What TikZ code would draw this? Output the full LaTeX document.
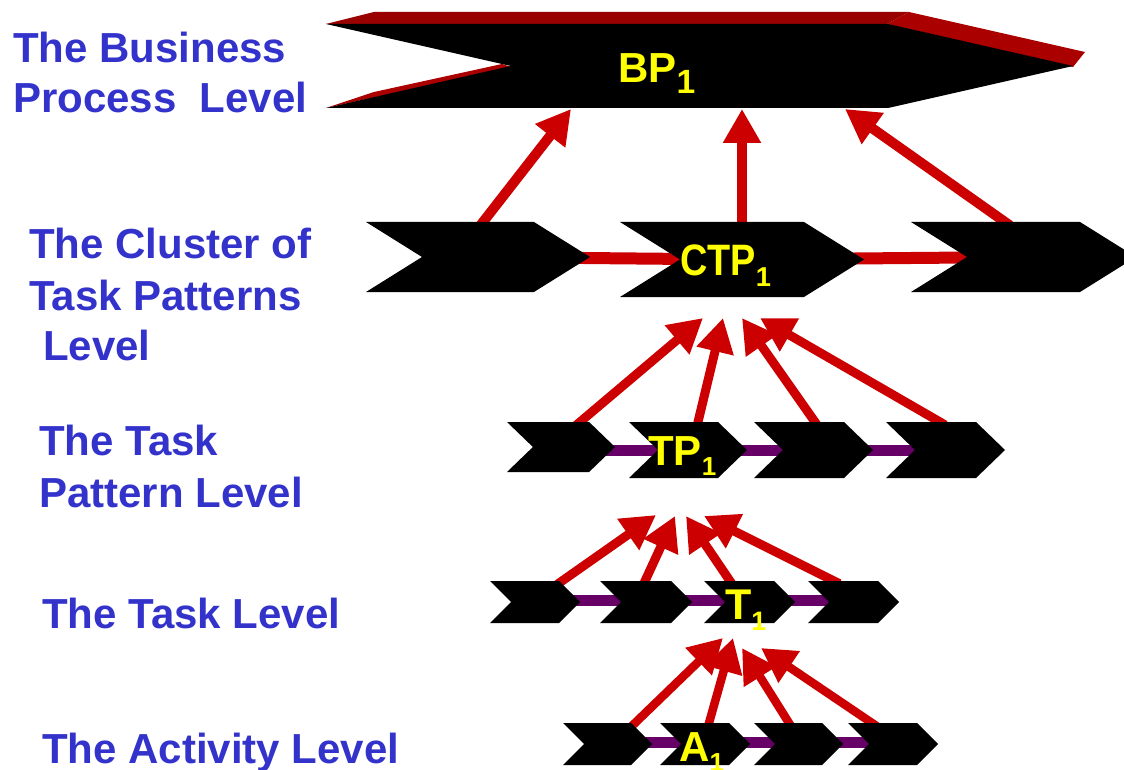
\documentclass[tikz,border=0pt]{standalone}
\usepackage{fontspec}
\setmainfont{Liberation Sans}
\usetikzlibrary{shapes.symbols,arrows.meta}
\pgfdeclarelayer{background}
\pgfsetlayers{background,main}

\definecolor{levelblue}{HTML}{3333CC}
\definecolor{tagyellow}{HTML}{FFFF00}
\definecolor{linkred}{HTML}{CC0000}
\definecolor{linkpurple}{HTML}{660066}
\definecolor{topface}{HTML}{990000}
\definecolor{sideface}{HTML}{AA0000}

% lowered index digit: #1 = scale, #2 = digit
\newcommand\idx[2][0.62]{\raisebox{-0.26em}{\scalebox{#1}{#2}}}

\tikzset{
  levelname/.style={anchor=base west, inner sep=0pt, text=levelblue,
    font=\bfseries\fontsize{42}{50}\selectfont},
  chev/.style={signal, signal to=east, signal from=west, fill=black, draw=none,
    inner sep=0pt, outer sep=0pt, signal pointer angle=#1},
  tag/.style={anchor=base west, inner sep=0pt, text=tagyellow,
    font=\bfseries\fontsize{#1}{#1}\selectfont},
  uplink/.style={draw=linkred, line width=#1, shorten <=-6pt,
    -{Triangle[length=34pt,width=36pt]}},
  redbar/.style={draw=linkred, line width=12pt},
  purplebar/.style={draw=linkpurple, line width=11pt},
}

\begin{document}
\begin{tikzpicture}[x=1pt,y=-1pt]
\useasboundingbox (0,0) rectangle (1124,770);

% level names
\node[levelname] (bp-t1)  at (13,63)  {The Business};
\node[levelname] (bp-t2)  at (13,113) {Process\ \ Level};
\node[levelname] (ctp-t1) at (29,258) {The Cluster of};
\node[levelname] (ctp-t2) at (29,310) {Task Patterns};
\node[levelname] (ctp-t3) at (43,360) {Level};
\node[levelname] (tp-t1)  at (39,455) {The Task};
\node[levelname] (tp-t2)  at (39,507) {Pattern Level};
\node[levelname] (t-t1)   at (42,628) {The Task Level};
\node[levelname] (a-t1)   at (42,763) {The Activity Level};

% business process
\node[chev=25.6, minimum width=747pt, minimum height=84pt] (bp) at (699.5,66) {};

% cluster of task patterns
\node[chev=64, minimum width=224pt, minimum height=70pt] (ca) at (478,257) {};
\node[chev=64, minimum width=244pt, minimum height=75pt] (cb) at (742,259.5) {};
\node[chev=64, minimum width=225pt, minimum height=70pt] (cc) at (1023.5,257) {};

% task patterns
\node[chev=88, minimum width=108pt, minimum height=50pt] (ta) at (561,447) {};
\node[chev=88, minimum width=118pt, minimum height=56pt] (tb) at (688,450) {};
\node[chev=88, minimum width=119pt, minimum height=56pt] (tc) at (813.5,450) {};
\node[chev=88, minimum width=119pt, minimum height=56pt] (td) at (945.5,450) {};

% tasks
\node[chev=90, minimum width=90pt, minimum height=42pt] (ka) at (535,602) {};
\node[chev=90, minimum width=92pt, minimum height=42pt] (kb) at (646,602) {};
\node[chev=90, minimum width=91pt, minimum height=42pt] (kc) at (749.5,602) {};
\node[chev=90, minimum width=91pt, minimum height=42pt] (kd) at (853.5,602) {};

% activities
\node[chev=90, minimum width=89pt, minimum height=42pt] (aa) at (607.5,744) {};
\node[chev=90, minimum width=90pt, minimum height=42pt] (ab) at (705,744) {};
\node[chev=90, minimum width=89pt, minimum height=42pt] (ac) at (798.5,744) {};
\node[chev=90, minimum width=90pt, minimum height=42pt] (ad) at (893,744) {};

% labels
\node[tag=42] (bp-l)  at (618,83)  {BP\idx[0.8]{1}};
\node[tag=44] (ctp-l) at (680,275) {\scalebox{0.86}[1]{CTP}\idx{1}};
\node[tag=42] (tp-l)  at (648,465) {TP\idx{1}};
\node[tag=43] (t-l)   at (725,619) {T\idx{1}};
\node[tag=42] (a-l)   at (679,761) {A\idx{1}};

% arrow targets
\coordinate (bp-in1) at (571,109);
\coordinate (bp-in2) at (742,109);
\coordinate (bp-in3) at (845,109);
\coordinate (ctp-in1) at (703,318);
\coordinate (ctp-in2) at (723,318);
\coordinate (ctp-in3) at (742,318);
\coordinate (ctp-in4) at (760,318);
\coordinate (tp-in1) at (656,515);
\coordinate (tp-in2) at (675,516);
\coordinate (tp-in3) at (686,516);
\coordinate (tp-in4) at (704,516);
\coordinate (t-in1) at (723,638);
\coordinate (t-in2) at (733,638);
\coordinate (t-in3) at (742,648);
\coordinate (t-in4) at (761,648);

\begin{pgfonlayer}{background}
  % depth faces of the business process
  \fill[topface] (326,24) -- (374,12) -- (909,12) -- (887,24) -- cycle;
  \fill[sideface] (887,24) -- (909,12) -- (1085,52) -- (1073,67) -- cycle;
  \fill[sideface] (326,108) -- (374,92) -- (502,64) -- (511,67) -- cycle;

  % sequence links
  \draw[redbar] (ca.center) -- (cb.center);
  \draw[redbar] (cb.center) -- (cc.center);
  \draw[purplebar] ([yshift=-3pt]ta.center) -- (tb.center);
  \draw[purplebar] (tb.center) -- (tc.center);
  \draw[purplebar] (tc.center) -- (td.center);
  \draw[purplebar] ([yshift=2pt]ka.center) -- ([yshift=2pt]kb.center);
  \draw[purplebar] ([yshift=2pt]kb.center) -- ([yshift=2pt]kc.center);
  \draw[purplebar] ([yshift=2pt]kc.center) -- ([yshift=2pt]kd.center);
  \draw[purplebar] ([yshift=2pt]aa.center) -- ([yshift=2pt]ab.center);
  \draw[purplebar] ([yshift=2pt]ab.center) -- ([yshift=2pt]ac.center);
  \draw[purplebar] ([yshift=2pt]ac.center) -- ([yshift=2pt]ad.center);

  % composition arrows
  \draw[uplink=10pt] ([xshift=5pt]ca.north) -- (bp-in1);
  \draw[uplink=10pt] (cb.north) -- (bp-in2);
  \draw[uplink=10pt] ([xshift=-18.5pt]cc.north) -- (bp-in3);

  \draw[uplink=9pt] ([xshift=19pt]ta.north) -- (ctp-in1);
  \draw[uplink=9pt] ([xshift=10pt]tb.north) -- (ctp-in2);
  \draw[uplink=9pt] ([xshift=1.5pt]tc.north) -- (ctp-in3);
  \draw[uplink=9pt] ([xshift=-5.5pt]td.north) -- (ctp-in4);

  \draw[uplink=9pt] ([xshift=27pt]ka.north) -- (tp-in1);
  \draw[uplink=9pt] ([xshift=-1pt]kb.north) -- (tp-in2);
  \draw[uplink=9pt] ([xshift=-19.5pt]kc.north) -- (tp-in3);
  \draw[uplink=9pt] ([xshift=-19.5pt]kd.north) -- (tp-in4);

  \draw[uplink=8.5pt] ([xshift=27.5pt]aa.north) -- (t-in1);
  \draw[uplink=8.5pt] ([xshift=4pt]ab.north) -- (t-in2);
  \draw[uplink=8.5pt] ([xshift=-9.5pt]ac.north) -- (t-in3);
  \draw[uplink=8.5pt] ([xshift=-21pt]ad.north) -- (t-in4);
\end{pgfonlayer}
\end{tikzpicture}
\end{document}
